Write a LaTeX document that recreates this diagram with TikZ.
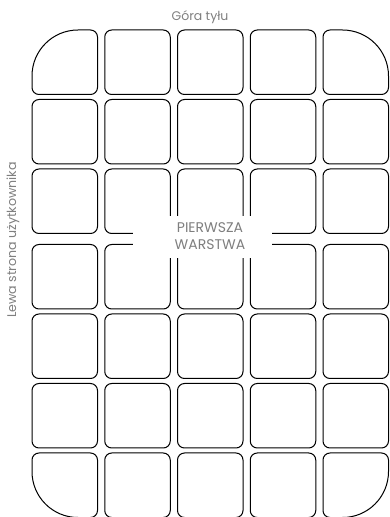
\documentclass[tikz,border=0pt]{standalone}
\usepackage{fontspec}
\setmainfont{Poppins}
\usepackage{tikz}
\usetikzlibrary{calc}
\definecolor{labelgray}{HTML}{7F7F7F}

% one key: left x, top (from the upper edge), radii tl tr br bl
\newcommand\keycell[6]{%
  \pgfmathsetmacro\kl{#1}
  \pgfmathsetmacro\kt{517-#2}
  \pgfmathsetmacro\kr{\kl+65.5}
  \pgfmathsetmacro\kb{\kt-64.5}
  \draw[keyline] (\kl,\kb+#6) -- (\kl,\kt-#3)
    arc[start angle=180,end angle=90,radius={(#3)*1pt}] -- (\kr-#4,\kt)
    arc[start angle=90,end angle=0,radius={(#4)*1pt}] -- (\kr,\kb+#5)
    arc[start angle=0,end angle=-90,radius={(#5)*1pt}] -- (\kl+#6,\kb)
    arc[start angle=270,end angle=180,radius={(#6)*1pt}] -- cycle;
}

\begin{document}
\begin{tikzpicture}[x=1pt,y=1pt,
  keyline/.style={line width=1pt},
  labeltext/.style={text=labelgray,font=\fontsize{12.5}{15}\selectfont,inner sep=0pt}]
  \useasboundingbox (0,0) rectangle (389,517);
  % keys
  \foreach \c/\colx in {0/32,1/104.75,2/177.5,3/250.25,4/323} {
    \foreach \r/\rowy in {0/30,1/99.5,2/169,3/244.5,4/314,5/383.5,6/453} {
      \def\rtl{7}\def\rtr{7}\def\rbr{7}\def\rbl{7}
      \ifnum\c=0 \ifnum\r=0 \def\rtl{46}\fi \ifnum\r=6 \def\rbl{46}\fi \fi
      \ifnum\c=4 \ifnum\r=0 \def\rtr{46}\fi \ifnum\r=6 \def\rbr{46}\fi \fi
      \keycell{\colx}{\rowy}{\rtl}{\rtr}{\rbr}{\rbl}
    }
  }
  % label in the middle
  \fill[white] (133,259) rectangle (272,301);
  \node[labeltext,align=center,font=\fontsize{14}{17}\selectfont] (layer) at (210,281) {PIERWSZA\\WARSTWA};
  \node[labeltext] (top) at (200,499.5) {Góra tyłu};
  \node[labeltext,rotate=90,font=\fontsize{12.6}{15}\selectfont] (side) at (13,277) {Lewa strona użytkownika};
\end{tikzpicture}
\end{document}
